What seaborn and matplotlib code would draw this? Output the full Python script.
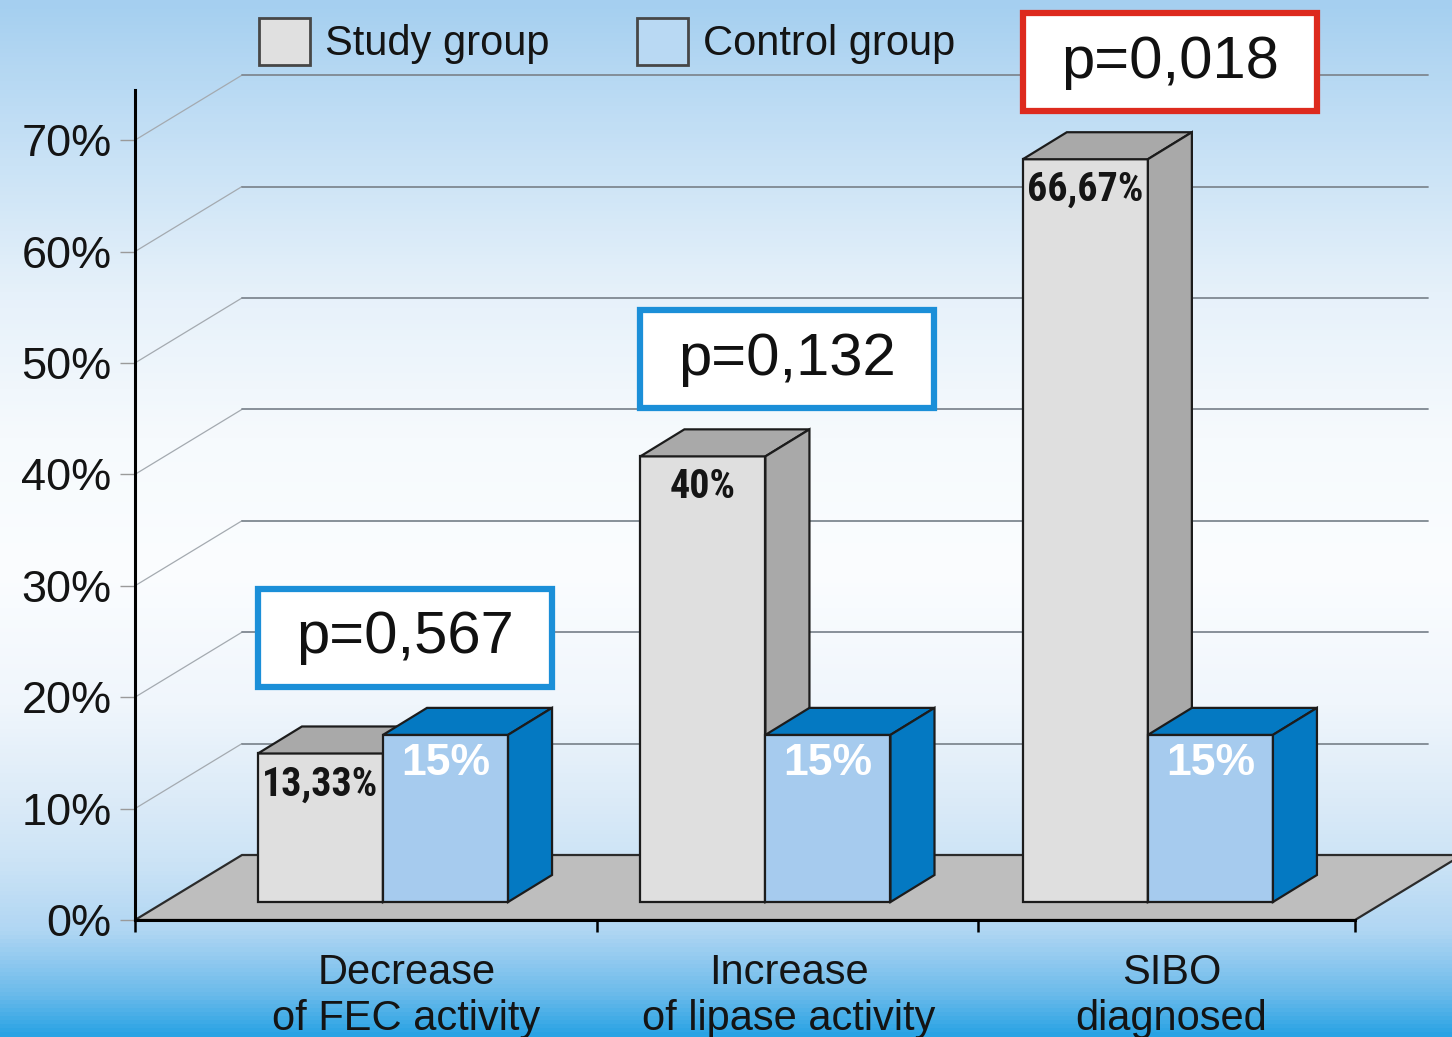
import numpy as np
import pandas as pd
import matplotlib
matplotlib.use("Agg")
import matplotlib.pyplot as plt
import seaborn as sns
from matplotlib import font_manager
from matplotlib.font_manager import FontProperties
from matplotlib.patches import Polygon, Rectangle, Patch
from matplotlib.colors import LinearSegmentedColormap

# ---- data -------------------------------------------------------------
categories = ["Decrease\nof FEC activity", "Increase\nof lipase activity", "SIBO\ndiagnosed"]
groups = ["Study group", "Control group"]
study_values = [13.33, 40.0, 66.67]
control_values = [15.0, 15.0, 15.0]
study_labels = ["13,33%", "40%", "66,67%"]
control_labels = ["15%", "15%", "15%"]
p_values = ["p=0,567", "p=0,132", "p=0,018"]
p_significant = [False, False, True]
y_ticks = [0, 10, 20, 30, 40, 50, 60, 70]

# ---- style ------------------------------------------------------------
STUDY_FRONT, STUDY_SHADE = "#dfdfdf", "#a9a9a9"
CONTROL_FRONT, CONTROL_SHADE = "#a6cbee", "#0479c2"
FLOOR = "#bebebe"
EDGE = "#1c1c1c"
BOX_BLUE, BOX_RED = "#1b8fd8", "#dd2a1e"

W, H, DPI = 1452, 1037, 100

sns.set_theme(style="white")
plt.rcParams["font.family"] = ["Liberation Sans", "DejaVu Sans"]


def narrow_bold_font():
    """Pick a condensed bold sans face if one is installed."""
    wanted = ["Liberation Sans Narrow", "Arial Narrow", "Roboto Condensed",
              "Open Sans Condensed", "DejaVu Sans Condensed", "DejaVu Sans"]
    weights = {"bold": 700, "demibold": 600, "semibold": 600, "heavy": 800,
               "extra bold": 800, "black": 900}
    found = {}
    for f in font_manager.fontManager.ttflist:
        w = f.weight if isinstance(f.weight, int) else weights.get(str(f.weight).lower(), 400)
        condensed = ("condensed" in str(f.stretch).lower()
                     or "Narrow" in f.name or "Condensed" in f.name)
        if w >= 700 and condensed and f.style == "normal":
            found.setdefault(f.name, f.fname)
    for name in wanted:
        if name in found:
            return FontProperties(fname=found[name])
    return FontProperties(family="Liberation Sans", weight="bold")


LABEL_FONT = narrow_bold_font()

fig = plt.figure(figsize=(W / DPI, H / DPI), dpi=DPI)

# ---- vertical background gradient -------------------------------------
bg = fig.add_axes([0, 0, 1, 1], zorder=-10)
stops = [(0.00, "#a5cff0"), (0.10, "#bddcf4"), (0.28, "#e6f1fa"),
         (0.42, "#f6fafd"), (0.55, "#fbfdff"), (0.68, "#f0f6fc"),
         (0.77, "#dcebf8"), (0.83, "#cde4f6"), (0.90, "#b0d6f3"),
         (0.96, "#6cbbeb"), (1.00, "#2aa3e4")]
cmap = LinearSegmentedColormap.from_list("bg", stops)
grad = np.linspace(0, 1, H).reshape(-1, 1)
bg.imshow(grad, cmap=cmap, aspect="auto", extent=[0, 1, 0, 1], origin="upper")
bg.set_axis_off()

# ---- main axes (front plane of the 3-D box) ---------------------------
AX_L, AX_R, AX_B, AX_T = 135, 1355, 920, 90
ax = fig.add_axes([AX_L / W, 1 - AX_B / H, (AX_R - AX_L) / W, (AX_B - AX_T) / H])
ax.set_facecolor("none")
XMIN, XMAX, YMAX = -0.570, 2.620, 74.5
sx = (XMAX - XMIN) / (AX_R - AX_L)   # data units per pixel, x
sy = YMAX / (AX_B - AX_T)             # data units per pixel, y


def off(dx, dy):
    return dx * sx, dy * sy


WALL = off(107, 65)     # depth of the floor / back wall
PLANE = off(30, 18)     # offset of the bar fronts behind the front plane
DEPTH = off(44, 27)     # depth of each column

# floor
ax.add_patch(Polygon([(XMIN, 0), (XMAX, 0), (XMAX + WALL[0], WALL[1]),
                      (XMIN + WALL[0], WALL[1])], closed=True,
                     facecolor=FLOOR, edgecolor="#2b2b2b", lw=1.6,
                     zorder=1, clip_on=False))

# gridlines on the side wall and back wall
back_end = XMAX + WALL[0] - off(34, 0)[0]
for v in y_ticks[1:]:
    ax.plot([XMIN, XMIN + WALL[0]], [v, v + WALL[1]], color="#a4aab0",
            lw=0.9, zorder=0.6, clip_on=False)
    ax.plot([XMIN + WALL[0], back_end], [v + WALL[1]] * 2, color="#7f8891",
            lw=1.3, zorder=0.6, clip_on=False)

# ---- bars --------------------------------------------------------------
df = pd.DataFrame({
    "category": categories * 2,
    "group": [groups[0]] * len(categories) + [groups[1]] * len(categories),
    "value": study_values + control_values,
})
sns.barplot(data=df, x="category", y="value", hue="group", order=categories,
            hue_order=groups, palette=[STUDY_FRONT, CONTROL_FRONT], width=0.654,
            saturation=1, edgecolor=EDGE, linewidth=1.6, errorbar=None,
            legend=False, ax=ax)

shades = [STUDY_SHADE, CONTROL_SHADE]
for k, container in enumerate(ax.containers):
    z = 3 + k
    for rect in container:
        rect.set_x(rect.get_x() + PLANE[0])
        rect.set_y(PLANE[1])
        rect.set_zorder(z)
        rect.set_clip_on(False)
        x0 = rect.get_x()
        x1 = x0 + rect.get_width()
        y0 = rect.get_y()
        y1 = y0 + rect.get_height()
        top = Polygon([(x0, y1), (x1, y1), (x1 + DEPTH[0], y1 + DEPTH[1]),
                       (x0 + DEPTH[0], y1 + DEPTH[1])], closed=True,
                      facecolor=shades[k], edgecolor=EDGE, lw=1.6,
                      zorder=z + 0.1, clip_on=False)
        side = Polygon([(x1, y0), (x1 + DEPTH[0], y0 + DEPTH[1]),
                        (x1 + DEPTH[0], y1 + DEPTH[1]), (x1, y1)], closed=True,
                       facecolor=shades[k], edgecolor=EDGE, lw=1.6,
                       zorder=z + 0.1, clip_on=False)
        ax.add_patch(top)
        ax.add_patch(side)

study_rects = list(ax.containers[0])
control_rects = list(ax.containers[1])

# size the study-group labels so the widest one spans ~116 px
renderer = fig.canvas.get_renderer()
probe = fig.text(0, 0, max(study_labels, key=len), fontproperties=LABEL_FONT, fontsize=20)
probe_w = probe.get_window_extent(renderer).width
probe.remove()
label_size = min(30.0, 20 * 116 / probe_w)

# value labels inside the columns
for rect, lab in zip(study_rects, study_labels):
    cx = rect.get_x() + rect.get_width() / 2
    ty = rect.get_y() + rect.get_height()
    ax.text(cx, ty - 31 * sy, lab, ha="center", va="center",
            fontproperties=LABEL_FONT, fontsize=label_size, color="#151515",
            zorder=8, clip_on=False)
for rect, lab in zip(control_rects, control_labels):
    cx = rect.get_x() + rect.get_width() / 2
    ty = rect.get_y() + rect.get_height()
    ax.text(cx, ty - 29 * sy, lab, ha="center", va="center", fontsize=32,
            fontweight="bold", color="white", zorder=8, clip_on=False)

# p-value boxes above each pair
for s_rect, c_rect, ptxt, sig in zip(study_rects, control_rects, p_values, p_significant):
    left = s_rect.get_x()
    right = c_rect.get_x() + c_rect.get_width() + DEPTH[0]
    peak = max(s_rect.get_y() + s_rect.get_height(),
               c_rect.get_y() + c_rect.get_height()) + DEPTH[1]
    bottom = peak + 21 * sy
    height = 98 * sy
    ax.add_patch(Rectangle((left, bottom), right - left, height,
                           facecolor="white", edgecolor=BOX_RED if sig else BOX_BLUE,
                           lw=4.5, zorder=9, clip_on=False))
    ax.text((left + right) / 2, bottom + height / 2, ptxt, ha="center",
            va="center", fontsize=43, color="#111111", zorder=10, clip_on=False)

# ---- axes, ticks, labels -----------------------------------------------
ax.set_xlim(XMIN, XMAX)
ax.set_ylim(0, YMAX)
ax.set_xlabel("")
ax.set_ylabel("")
for side_name in ("top", "right"):
    ax.spines[side_name].set_visible(False)
for side_name in ("left", "bottom"):
    ax.spines[side_name].set_color("black")
    ax.spines[side_name].set_linewidth(2.2)
    ax.spines[side_name].set_zorder(2.5)

ax.set_yticks(y_ticks, labels=[f"{v}%" for v in y_ticks])
ax.tick_params(axis="y", left=True, direction="out", length=11, width=1,
               color="#9a9a9a", pad=6, labelsize=32.5, labelcolor="#141414")

ax.set_xticks([XMIN, 0.637, 1.634, XMAX], labels=[""] * 4)
ax.tick_params(axis="x", which="major", bottom=True, direction="out",
               length=8.5, width=1.8, color="black")
ax.set_xticks(np.arange(len(categories)) + 0.14, labels=categories, minor=True)
ax.tick_params(axis="x", which="minor", bottom=True, length=0, pad=24,
               labelsize=30, labelcolor="#141414")
for t in ax.get_xticklabels(minor=True):
    t.set_linespacing(1.18)

# ---- legend --------------------------------------------------------------
handles = [Patch(facecolor="#e0e0e0", edgecolor="#474747", lw=2, label=groups[0]),
           Patch(facecolor="#b9d9f3", edgecolor="#474747", lw=2, label=groups[1])]
fig.legend(handles=handles, loc="upper left", bbox_to_anchor=(259 / W, 1 - 18 / H),
           ncol=2, frameon=False, fontsize=30, handlelength=1.22,
           handleheight=1.35, handletextpad=0.36, columnspacing=2.1,
           borderpad=0, borderaxespad=0, labelcolor="#141414")

fig.savefig("out.png", dpi=DPI)
